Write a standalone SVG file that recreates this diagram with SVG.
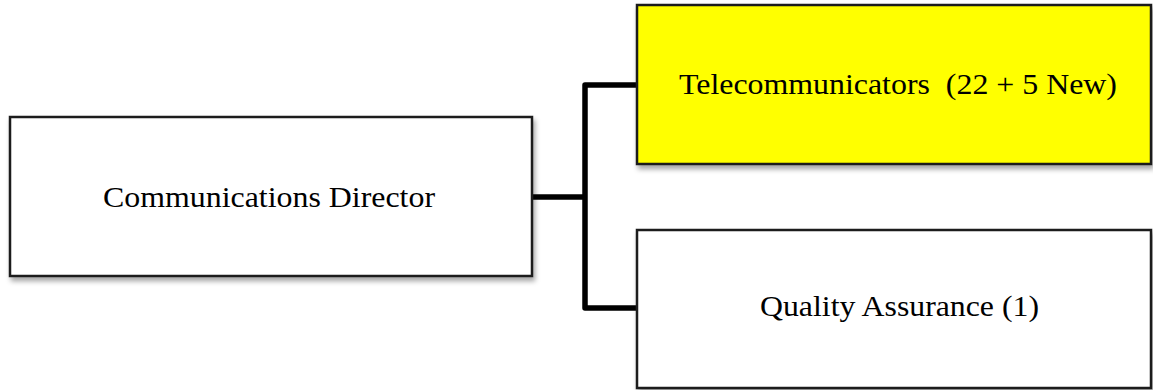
<svg xmlns="http://www.w3.org/2000/svg" width="1153" height="390" viewBox="0 0 1153 390">
  <defs>
    <filter id="shadow" x="-5%" y="-10%" width="110%" height="125%">
      <feDropShadow dx="2" dy="4" stdDeviation="2.5" flood-color="#000" flood-opacity="0.35"/>
    </filter>
    <style>
      .box { stroke: #1a1a1a; stroke-width: 2.5; filter: url(#shadow); }
      .lbl { font-family: "Liberation Serif", "Times New Roman", serif; font-size: 30px; fill: #000; }
      .conn { fill: none; stroke: #000; stroke-width: 5.5; stroke-linejoin: round; }
    </style>
  </defs>
  <rect width="1153" height="390" fill="#fff"/>
  <g id="connectors">
    <path class="conn" d="M533 197 H585"/>
    <path class="conn" d="M637 85 H585 V308 H637"/>
  </g>
  <g id="node-director">
    <rect class="box" x="10" y="117" width="522" height="159" fill="#fff"/>
    <text class="lbl" x="103" y="207" textLength="332" lengthAdjust="spacingAndGlyphs">Communications Director</text>
  </g>
  <g id="node-telecommunicators">
    <rect class="box" x="637" y="5" width="514" height="159" fill="#ffff00"/>
    <text class="lbl" x="679" y="94" textLength="438" lengthAdjust="spacingAndGlyphs" xml:space="preserve">Telecommunicators  (22 + 5 New)</text>
  </g>
  <g id="node-qa">
    <rect class="box" x="637" y="230" width="514" height="158" fill="#fff"/>
    <text class="lbl" x="760" y="316" textLength="279" lengthAdjust="spacingAndGlyphs">Quality Assurance (1)</text>
  </g>
</svg>
